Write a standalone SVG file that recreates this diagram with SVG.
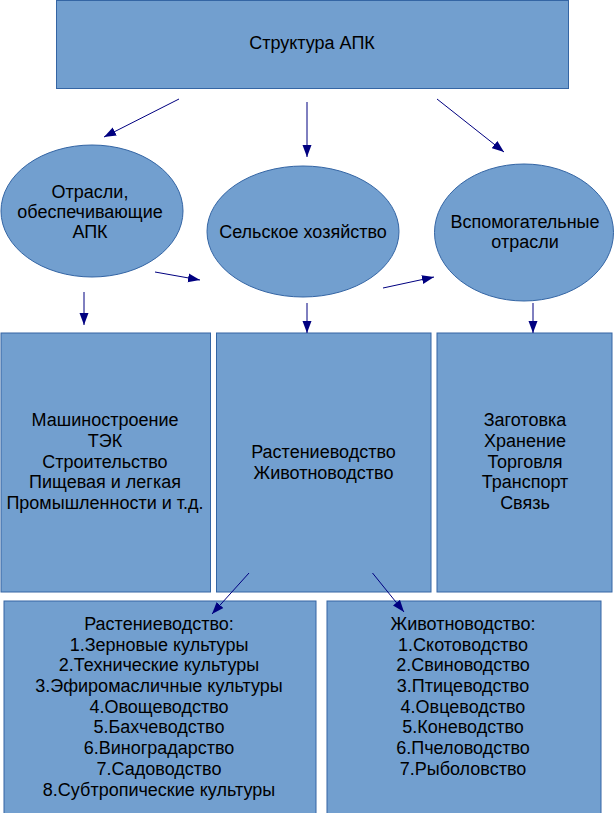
<svg xmlns="http://www.w3.org/2000/svg" width="615" height="813" viewBox="0 0 615 813">
<style>
.n{fill:#729fcf;stroke:#3465a4;stroke-width:1}
.t{font-family:"Liberation Sans",Arial,sans-serif;font-size:18px;fill:#000;text-anchor:middle}
.c line{stroke:#000080;stroke-width:1;marker-end:url(#ah)}
</style>
<defs>
<marker id="ah" markerUnits="userSpaceOnUse" markerWidth="14" markerHeight="10" refX="12" refY="5" orient="auto">
<path d="M0,0.5 L12,5 L0,9.5 Z" fill="#000080"/>
</marker>
</defs>
<rect width="615" height="813" fill="#fff"/>
<g id="top"><rect class="n" x="56.5" y="0.5" width="512" height="88"/><text class="t" x="312" y="49">Структура АПК</text></g>
<g id="e1"><ellipse class="n" cx="92" cy="211" rx="91" ry="66"/><text class="t" x="90"><tspan x="90" y="198">Отрасли,</tspan><tspan x="90" y="218">обеспечивающие</tspan><tspan x="90" y="238">АПК</tspan></text></g>
<g id="e2"><ellipse class="n" cx="303" cy="231.5" rx="96" ry="65.5"/><text class="t" x="303" y="238">Сельское хозяйство</text></g>
<g id="e3"><ellipse class="n" cx="524" cy="232.5" rx="89.5" ry="68.5"/><text class="t"><tspan x="525" y="228">Вспомогательные</tspan><tspan x="525" y="248">отрасли</tspan></text></g>
<g id="b1"><rect class="n" x="1" y="333" width="209.5" height="259"/><text class="t"><tspan x="105" y="426">Машиностроение</tspan><tspan x="105" y="447">ТЭК</tspan><tspan x="105" y="467.5">Строительство</tspan><tspan x="105" y="488">Пищевая и легкая</tspan><tspan x="105" y="509">Промышленности и т.д.</tspan></text></g>
<g id="b2"><rect class="n" x="216.5" y="333" width="214.5" height="259"/><text class="t"><tspan x="323.5" y="458">Растениеводство</tspan><tspan x="323.5" y="479">Животноводство</tspan></text></g>
<g id="b3"><rect class="n" x="437" y="333" width="175" height="259"/><text class="t"><tspan x="525" y="426">Заготовка</tspan><tspan x="525" y="447">Хранение</tspan><tspan x="525" y="467.5">Торговля</tspan><tspan x="525" y="488">Транспорт</tspan><tspan x="525" y="509">Связь</tspan></text></g>
<g id="b4"><rect class="n" x="4" y="601" width="312" height="220"/><text class="t"><tspan x="159" y="630">Растениеводство:</tspan><tspan x="159" y="651">1.Зерновые культуры</tspan><tspan x="159" y="671">2.Технические культуры</tspan><tspan x="159" y="692">3.Эфиромасличные культуры</tspan><tspan x="159" y="713">4.Овощеводство</tspan><tspan x="159" y="733">5.Бахчеводство</tspan><tspan x="159" y="754">6.Виноградарство</tspan><tspan x="159" y="775">7.Садоводство</tspan><tspan x="159" y="796">8.Субтропические культуры</tspan></text></g>
<g id="b5"><rect class="n" x="327" y="601" width="274" height="220"/><text class="t"><tspan x="463" y="630">Животноводство:</tspan><tspan x="463" y="651">1.Скотоводство</tspan><tspan x="463" y="671">2.Свиноводство</tspan><tspan x="463" y="692">3.Птицеводство</tspan><tspan x="463" y="713">4.Овцеводство</tspan><tspan x="463" y="733">5.Коневодство</tspan><tspan x="463" y="754">6.Пчеловодство</tspan><tspan x="463" y="775">7.Рыболовство</tspan></text></g>
<g id="connectors" class="c">
<line x1="179" y1="99" x2="104" y2="137"/>
<line x1="307" y1="102" x2="307" y2="157"/>
<line x1="437" y1="99" x2="504" y2="152"/>
<line x1="155" y1="272" x2="200" y2="280"/>
<line x1="383" y1="288" x2="434" y2="277"/>
<line x1="84" y1="292" x2="84" y2="325"/>
<line x1="307" y1="303" x2="307" y2="333"/>
<line x1="533" y1="303" x2="533" y2="333"/>
<line x1="249" y1="573" x2="212" y2="614"/>
<line x1="372.5" y1="573" x2="404" y2="612"/>
</g>
</svg>
